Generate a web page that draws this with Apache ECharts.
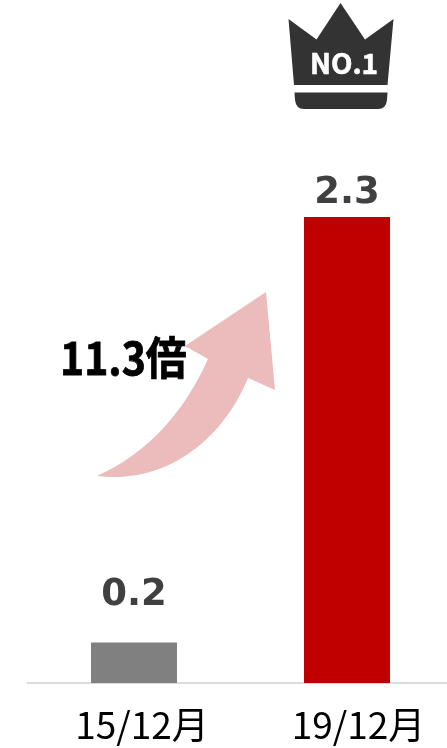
<!DOCTYPE html>
<html><head><meta charset="utf-8">
<style>html,body{margin:0;padding:0;background:#fff}#c{width:447px;height:748px}</style>
<script src="https://cdn.jsdelivr.net/npm/echarts@6/dist/echarts.min.js"></script>
</head><body><div id="c"></div>
<script>
const categories = ['15/12月', '19/12月'];
const values = [0.2, 2.3];
const barColors = ['#808080', '#c00000'];
const labelGaps = [29, 5];
const tickLabelShifts = [16, 23];
const multipleText = '11.3倍';
const badgeText = 'NO.1';

echarts.graphic.registerShape('curvedArrow', echarts.graphic.extendShape({
  buildPath(ctx) {
    ctx.moveTo(97, 476);
    ctx.bezierCurveTo(150, 452, 185, 410, 208, 359);
    ctx.lineTo(185, 346); ctx.lineTo(266, 292); ctx.lineTo(275, 390); ctx.lineTo(248, 378);
    ctx.bezierCurveTo(225, 435, 170, 485, 97, 476);
    ctx.closePath();
  }
}));
echarts.graphic.registerShape('crown', echarts.graphic.extendShape({
  buildPath(ctx) {
    ctx.moveTo(288.5, 19); ctx.lineTo(316.5, 39.5); ctx.lineTo(340.5, 3); ctx.lineTo(365, 39.5);
    ctx.lineTo(393.5, 19); ctx.lineTo(387.5, 85); ctx.lineTo(294, 85); ctx.closePath();
    ctx.moveTo(294.5, 92.5); ctx.lineTo(387.5, 92.5); ctx.lineTo(387, 100);
    ctx.quadraticCurveTo(386, 109, 378, 109); ctx.lineTo(304, 109);
    ctx.quadraticCurveTo(296, 109, 295, 100); ctx.closePath();
  }
}));

const chart = echarts.init(document.getElementById('c'), null, {renderer: 'canvas'});
chart.setOption({
  animation: false,
  backgroundColor: '#fff',
  grid: {left: 27.5, width: 426, top: 217, bottom: 65, outerBoundsMode: 'none'},
  xAxis: {
    type: 'category',
    data: categories.map((c, i) => ({value: c, textStyle: {padding: [0, 0, 0, tickLabelShifts[i]]}})),
    axisTick: {show: false},
    axisLine: {lineStyle: {color: '#dcdcdc', width: 2}},
    axisLabel: {color: '#000', fontSize: 37, fontFamily: '"Noto Sans CJK JP"', margin: 22, lineHeight: 40}
  },
  yAxis: {type: 'value', min: 0, max: 2.3, show: false, splitLine: {show: false}},
  series: [{
    type: 'bar', barWidth: 86,
    data: values.map((v, i) => ({
      value: v,
      itemStyle: {color: barColors[i]},
      label: {distance: labelGaps[i]}
    })),
    label: {show: true, position: 'top', color: '#404040',
      fontSize: 37, fontWeight: 'bold', fontFamily: '"DejaVu Sans"'}
  }],
  graphic: [
    {type: 'curvedArrow', style: {fill: '#ecbcbc'}},
    {type: 'text', x: 60, y: 358, scaleX: 0.91, style: {x: 0, y: 0, text: multipleText, fill: '#000', stroke: '#000', lineWidth: 0.8, font: 'bold 45px "Noto Sans CJK JP"', textVerticalAlign: 'middle'}},
    {type: 'crown', style: {fill: '#333'}},
    {type: 'text', style: {x: 344, y: 63, text: badgeText, fill: '#fff', stroke: '#fff', lineWidth: 0.6, font: 'bold 28px "Noto Sans CJK JP"', textAlign: 'center', textVerticalAlign: 'middle'}}
  ]
});
</script></body></html>
